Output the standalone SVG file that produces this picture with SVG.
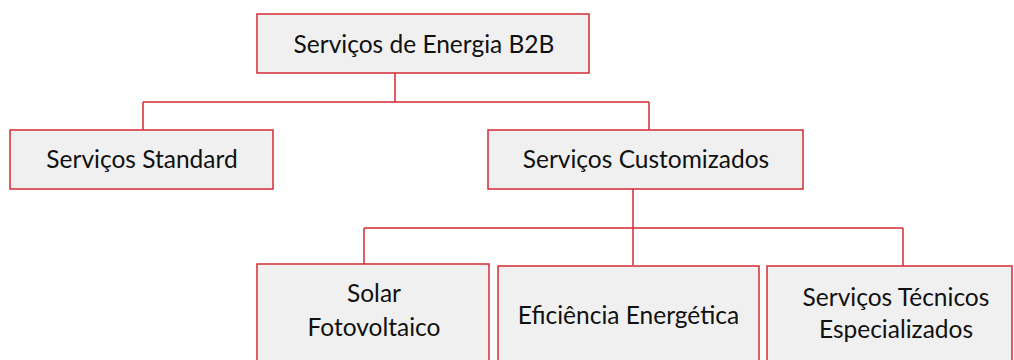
<svg xmlns="http://www.w3.org/2000/svg" width="1014" height="360" viewBox="0 0 1014 360">
<style>
.box{fill:#f0f0f0;stroke:#d42b35;stroke-width:1.5}
.lbl{font-family:Lato,"Open Sans",sans-serif;font-size:24.5px;fill:#111111;text-anchor:middle;dominant-baseline:central}
.con{fill:none;stroke:#d42b35;stroke-width:1.5}
</style>
<rect width="1014" height="360" fill="#ffffff"/>
<g id="connectors">
<path class="con" d="M395 73V102M143 102H649M143 102V130M649 102V130"/>
<path class="con" d="M633 189V265M364 228H903M364 228V264M903 228V266"/>
</g>
<g id="n-root"><rect class="box" x="257" y="14" width="332" height="59"/><text class="lbl" x="424" y="43">Serviços de Energia B2B</text></g>
<g id="n-standard"><rect class="box" x="10" y="130" width="263" height="59"/><text class="lbl" x="142" y="158">Serviços Standard</text></g>
<g id="n-custom"><rect class="box" x="488" y="130" width="315" height="59"/><text class="lbl" x="646" y="158">Serviços Customizados</text></g>
<g id="n-solar"><rect class="box" x="257" y="264" width="232" height="110"/><text class="lbl" x="374" y="292">Solar</text><text class="lbl" x="374" y="326">Fotovoltaico</text></g>
<g id="n-efic"><rect class="box" x="498" y="266" width="261" height="110"/><text class="lbl" x="628.5" y="314">Eficiência Energética</text></g>
<g id="n-tec"><rect class="box" x="767" y="266" width="245" height="110"/><text class="lbl" x="896" y="296">Serviços Técnicos</text><text class="lbl" x="896" y="328">Especializados</text></g>
</svg>
